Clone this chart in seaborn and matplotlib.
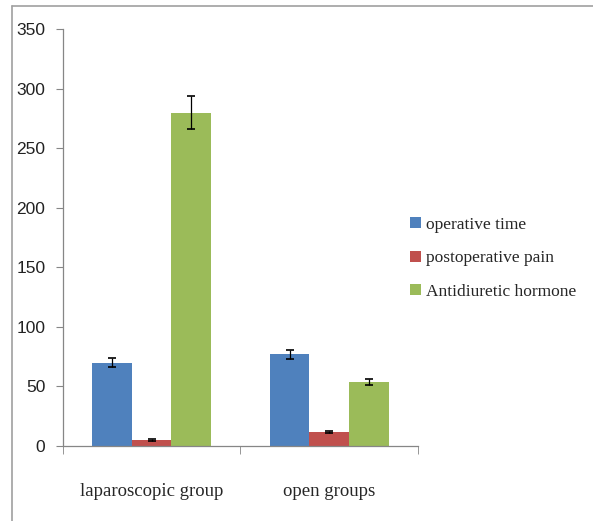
import matplotlib
matplotlib.use('Agg')
import matplotlib.pyplot as plt
import seaborn as sns
import pandas as pd
from matplotlib.lines import Line2D

groups = ['laparoscopic group', 'open groups']
measures = ['operative time', 'postoperative pain', 'Antidiuretic hormone']
operative_time = [70, 77]
postoperative_pain = [5, 12]
antidiuretic_hormone = [280, 54]
err_operative = [3.5, 4]
err_pain = [0.5, 0.7]
err_adh = [14, 2.5]

colors = ['#4F81BD', '#C0504D', '#9BBB59']

rows = []
for m, vals, errs in zip(measures,
                         [operative_time, postoperative_pain, antidiuretic_hormone],
                         [err_operative, err_pain, err_adh]):
    for g, v, e in zip(groups, vals, errs):
        rows.append({'group': g, 'measure': m, 'value': v, 'err': e})
df = pd.DataFrame(rows)

sns.set_style('white')
fig = plt.figure(figsize=(5.93, 5.21), dpi=100)
ax = fig.add_axes([0.106, 0.144, 0.599, 0.8])

sns.barplot(data=df, x='group', y='value', hue='measure', order=groups,
            hue_order=measures, palette=colors, width=0.67, gap=0,
            errorbar=None, saturation=1, linewidth=0, ax=ax)

# error bars on each bar
for i, m in enumerate(measures):
    cont = ax.containers[i]
    sub = df[df['measure'] == m].set_index('group').loc[groups]
    xs = [p.get_x() + p.get_width() / 2 for p in cont.patches]
    ax.errorbar(xs, sub['value'], yerr=sub['err'], fmt='none',
                ecolor='black', elinewidth=0.9, capsize=3, capthick=1.2)

ax.set_ylim(0, 350)
ax.set_xlim(-0.5, 1.5)
ax.set_yticks(range(0, 351, 50))
ax.set_xlabel('')
ax.set_ylabel('')
for s in ['top', 'right']:
    ax.spines[s].set_visible(False)
for s in ['left', 'bottom']:
    ax.spines[s].set_color('#868686')
    ax.spines[s].set_linewidth(0.9)

ax.tick_params(axis='y', direction='out', length=5, color='#868686',
               labelsize=12.5, pad=7.5, left=True)
ax.tick_params(axis='x', which='major', length=0, pad=27)
ax.set_xticks([-0.5, 0.5, 1.5], minor=True)
ax.tick_params(axis='x', which='minor', direction='out', length=6,
               color='#868686', bottom=True)
for lbl in ax.get_yticklabels():
    lbl.set_family(['Liberation Sans', 'DejaVu Sans'])
    lbl.set_color('#222222')
for lbl in ax.get_xticklabels():
    lbl.set_family(['Liberation Serif', 'DejaVu Serif'])
    lbl.set_fontsize(13.5)

leg = ax.legend(loc='center left', bbox_to_anchor=(0.958, 0.45), frameon=False,
                prop={'family': ['Liberation Serif', 'DejaVu Serif'], 'size': 12.5},
                handlelength=0.6, handleheight=0.6, handletextpad=0.3,
                labelspacing=1.0, borderaxespad=0)

# outer frame (top and left edges)
fig.add_artist(Line2D([12 / 593, 1.0], [1 - 6 / 521, 1 - 6 / 521],
                      transform=fig.transFigure, color='#A0A0A0', lw=1.2))
fig.add_artist(Line2D([12 / 593, 12 / 593], [0, 1 - 6 / 521],
                      transform=fig.transFigure, color='#A0A0A0', lw=1.2))

fig.savefig('out.png', dpi=100)
